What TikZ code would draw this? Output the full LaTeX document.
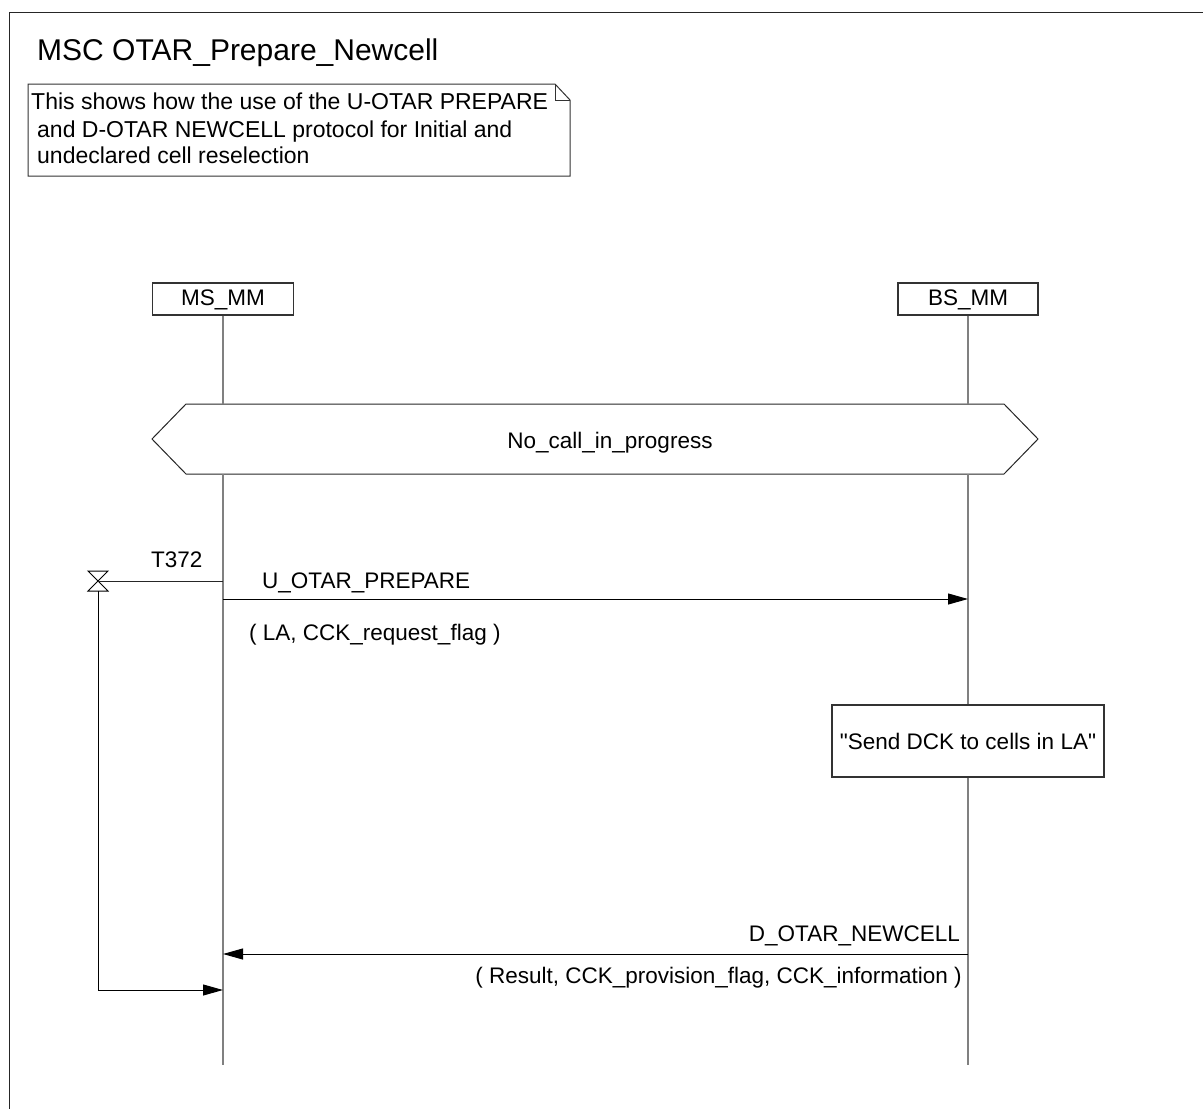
\documentclass[tikz,border=0pt]{standalone}
\usepackage{fontspec}
\newfontfamily\arialf{Liberation Sans}
\usetikzlibrary{arrows.meta}
\begin{document}
\begin{tikzpicture}[x=1pt,y=-1pt,
  font=\arialf\fontsize{22.5}{26}\selectfont,
  box/.style={draw=black!80, line width=1.2pt, fill=white, inner sep=0pt},
  instbox/.style={box, minimum width=141pt, minimum height=32pt, text height=16pt, text depth=4pt},
  life/.style={draw=black!50, line width=1.3pt},
  msg/.style={draw=black, line width=1pt, -{Triangle[length=20pt,width=11pt]}},
  lbl/.style={anchor=base west, inner sep=0pt},
  lblr/.style={anchor=base east, inner sep=0pt},
  cmt/.style={lbl, font=\arialf\fontsize{23}{26}\selectfont},
  thinline/.style={draw=black!85, line width=1pt}]
\useasboundingbox (0,0) rectangle (1203,1109);
% frame
\draw[thinline] (9,1109) -- (9,12) -- (1203,12);
% title
\node[lbl, font=\arialf\fontsize{30}{34}\selectfont] (title) at (37,60) {MSC OTAR\_Prepare\_Newcell};
% comment
\draw[box, line width=1pt] (28,84) -- (555,84) -- (570,100) -- (570,176) -- (28,176) -- cycle;
\draw[line width=1pt, black!80] (555,84) -- (555,100) -- (570,100);
\node[cmt] (c1) at (31,109) {This shows how the use of the U-OTAR PREPARE};
\node[cmt] (c2) at (37,137) {and D-OTAR NEWCELL protocol for Initial and};
\node[cmt] (c3) at (37,163) {undeclared cell reselection};
% instances
\node[instbox] (ms) at (223,299) {MS\_MM};
\node[instbox, minimum width=140pt] (bs) at (968,299) {BS\_MM};
% condition
\draw[line width=1pt, black!85] (152,439) -- (186,404) -- (1004,404) -- (1038,439) -- (1004,474) -- (186,474) -- cycle;
\node[anchor=base, inner sep=0pt] (cond) at (610,448) {No\_call\_in\_progress};
% action
\node[box, minimum width=272pt, minimum height=72pt, text height=16pt, text depth=0pt] (act) at (968,741) {"Send DCK to cells in LA"};
% lifelines
\draw[life] (ms.south) -- (ms |- 0,404);
\draw[life] (ms |- 0,474) -- (ms |- 0,1065);
\draw[life] (bs.south) -- (bs |- 0,404);
\draw[life] (bs |- 0,474) -- (act.north);
\draw[life] (act.south) -- (bs |- 0,1065);
% timer
\coordinate (tmr) at (98,581);
\coordinate (tbot) at (98,591);
\draw[line width=1pt] (88,571) -- (108,571) -- (88,591) -- (108,591) -- cycle;
\draw[thinline] (tmr) -- (ms |- tmr);
\node[lbl] (t372) at (151,567) {T372};
% U_OTAR_PREPARE
\draw[msg] (ms |- 0,599) -- (bs |- 0,599);
\node[lbl] (m1) at (262,588) {U\_OTAR\_PREPARE};
\node[lbl] (p1) at (249,640) {( LA, CCK\_request\_flag )};
% D_OTAR_NEWCELL
\draw[msg] (bs |- 0,954) -- (ms |- 0,954);
\node[lblr] (m2) at (960,941) {D\_OTAR\_NEWCELL};
\node[lblr] (p2) at (962,983) {( Result, CCK\_provision\_flag, CCK\_information )};
% timeout
\draw[msg] (tbot) |- (ms |- 0,990);
\end{tikzpicture}
\end{document}
